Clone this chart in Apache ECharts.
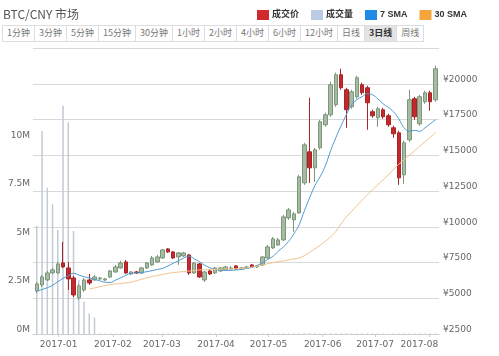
<!DOCTYPE html>
<html><head><meta charset="utf-8">
<script src="https://cdn.jsdelivr.net/npm/echarts@6/dist/echarts.min.js"></script>
<style>
html,body{margin:0;padding:0;background:#fff;}
#chart{position:absolute;left:0;top:0;width:499px;height:356px;}
#title{position:absolute;left:3px;top:5px;font:12px "Noto Sans CJK SC","Liberation Sans",sans-serif;color:#555;}
#bar{position:absolute;left:2px;top:25px;display:flex;}
#bar span{display:block;height:15px;line-height:15px;padding:0 4px;font:9px "Noto Sans CJK SC","Liberation Sans",sans-serif;color:#777;border:1px solid #ddd;border-left:none;background:#fff;}
#bar span:first-child{border-left:1px solid #ddd;}
#bar span.on{background:#e4e4e4;color:#333;font-weight:bold;}
</style></head>
<body>
<div id="chart"></div>
<div id="title"></div>
<div id="bar"></div>
<script>
const titleText = 'BTC/CNY 市场';
const periodLabels = ['1分钟','3分钟','5分钟','15分钟','30分钟','1小时','2小时','4小时','6小时','12小时','日线','3日线','周线'];
const activePeriod = '3日线';
const legendNames = ['成交价','成交量','7 SMA','30 SMA'];

const dates = [
'2016-12-19','2016-12-22','2016-12-25','2016-12-28','2016-12-31','2017-01-03','2017-01-06','2017-01-09','2017-01-12','2017-01-15',
'2017-01-18','2017-01-21','2017-01-24','2017-01-27','2017-01-30','2017-02-02','2017-02-05','2017-02-08','2017-02-11','2017-02-14',
'2017-02-17','2017-02-20','2017-02-23','2017-02-26','2017-03-01','2017-03-04','2017-03-07','2017-03-10','2017-03-13','2017-03-16',
'2017-03-19','2017-03-22','2017-03-25','2017-03-28','2017-03-31','2017-04-03','2017-04-06','2017-04-09','2017-04-12','2017-04-15',
'2017-04-18','2017-04-21','2017-04-24','2017-04-27','2017-04-30','2017-05-03','2017-05-06','2017-05-09','2017-05-12','2017-05-15',
'2017-05-18','2017-05-21','2017-05-24','2017-05-27','2017-05-30','2017-06-02','2017-06-05','2017-06-08','2017-06-11','2017-06-14',
'2017-06-17','2017-06-20','2017-06-23','2017-06-26','2017-06-29','2017-07-02','2017-07-05','2017-07-08','2017-07-11','2017-07-14',
'2017-07-17','2017-07-20','2017-07-23','2017-07-26','2017-07-29','2017-08-01','2017-08-04'];

const opens = [
5510,5930,6280,6770,6770,7470,7120,6420,5020,5580,
6280,6280,6350,6280,6490,6840,7120,7540,6700,6840,
6770,7120,7330,7540,7820,8450,8240,7890,7960,8030,
6770,7400,6280,6910,6770,6910,6980,7050,7260,7050,
7120,7330,7190,7330,7820,8520,8730,9080,10620,10480,
10970,13070,15240,14120,15520,17130,17830,18530,20630,19580,
18390,19090,19930,19720,18040,17620,18180,17760,16920,16570,
13630,16080,18950,17200,18740,19370,18880];
const closes = [
6000,6490,6770,6980,7400,7190,6350,5230,5860,6280,
6070,6490,6420,6350,6910,7190,7470,6770,6840,6770,
7120,7470,7820,7890,8380,8240,7820,8170,8170,6770,
7470,6490,6840,6700,7120,7120,7190,7120,7050,7120,
7190,7190,7260,7890,8590,9150,9080,10690,11180,10900,
13490,15730,14120,15380,17340,17830,19930,20630,19720,18180,
19440,20420,19370,18670,17760,18250,17690,17130,16500,13420,
15870,18880,17690,19090,19370,18740,21050];
const lows = [
5370,5790,6210,6700,6700,7120,5580,5090,4880,5440,
5930,6210,6280,6210,6420,6770,7050,6700,6630,6700,
6700,7050,7260,7470,7750,8170,7750,7330,7890,6630,
6700,6420,6140,6630,6700,6840,6910,6980,6980,6980,
7050,7120,7120,7260,7750,8450,8660,9010,10480,9640,
10900,12930,13070,13140,15380,16990,17690,18390,19580,16920,
18250,18950,19230,16780,17620,16990,17550,16990,16220,12930,
13000,15940,17480,17060,18600,18110,18740];
const highs = [
6140,6630,6910,7120,7540,8940,7540,6560,6000,6420,
6700,6630,6490,6420,6980,7330,7610,7680,6910,6910,
7190,7540,7960,8030,8450,8520,8310,8240,8240,8100,
7540,7470,6910,6980,7190,7190,7260,7260,7330,7190,
7260,7400,7330,7960,8730,9290,9220,10830,11320,11040,
13630,15870,19020,15520,17480,17970,20140,20770,21050,19720,
19580,20560,20070,19860,18180,18390,18320,17900,17060,16710,
16010,19580,19090,19230,19510,19510,21260];
const volumes = [
5570000,10460000,7540000,6690000,5360000,11770000,10910000,5310000,2780000,1660000,
1060000,850000,30000,25000,20000,20000,25000,30000,20000,20000,
20000,25000,20000,20000,25000,20000,20000,20000,25000,30000,
25000,20000,20000,20000,20000,20000,20000,20000,20000,20000,
20000,20000,20000,20000,25000,25000,25000,30000,30000,30000,
30000,40000,45000,35000,30000,30000,35000,40000,40000,35000,
30000,30000,25000,30000,25000,25000,20000,20000,20000,30000,
30000,30000,25000,25000,20000,20000,30000];
const sma7 = [
5489,5615,5734,5909,6154,6385,6574,6742,6630,6504,
6420,6322,6224,6119,6105,6266,6434,6609,6749,6770,
6798,6861,6931,7015,7092,7260,7442,7624,7806,7946,
7764,7554,7309,7134,7015,6966,6945,6945,6980,7015,
7085,7155,7295,7470,7715,7925,8275,8590,8975,9500,
10130,11110,12020,12860,13490,14260,15310,16220,17060,17830,
18530,18880,19090,19300,19230,18950,18600,18355,18040,17550,
16920,16675,16745,16675,16920,17200,17480];
const sma30 = [
null,null,null,null,null,null,null,null,null,null,
5650,5720,5804,5888,5965,6000,6035,6070,6126,6224,
6329,6434,6518,6595,6665,6742,6791,6833,6868,6903,
6938,6980,6994,7015,7022,7036,7043,7050,7064,7085,
7120,7176,7246,7330,7414,7484,7554,7610,7680,7750,
7820,7974,8205,8450,8695,8975,9290,9675,10200,10690,
11075,11460,11845,12230,12580,12930,13280,13630,14015,14365,
14680,14995,15310,15625,15940,16255,16605];
const priceTicks = {min: 2500, max: 22500, interval: 2500};
const volumeTicks = {min: 0, max: 14740000, interval: 2500000, lastLabel: 10000000};

document.getElementById('title').textContent = titleText;
const bar = document.getElementById('bar');
periodLabels.forEach(function (p) {
  const s = document.createElement('span');
  s.textContent = p;
  if (p === activePeriod) s.className = 'on';
  bar.appendChild(s);
});

const t = dates.map(d => d + ' 12:00');
const candleData = t.map((d, i) => [d, opens[i], closes[i], lows[i], highs[i]]);
const volData = t.map((d, i) => [d, volumes[i]]);
const sma7Data = t.map((d, i) => [d, sma7[i]]);
const sma30Data = t.map((d, i) => [d, sma30[i] == null ? '-' : sma30[i]]);

const axisFont = 'DejaVu Sans';
const chart = echarts.init(document.getElementById('chart'));
chart.setOption({
  animation: false,
  backgroundColor: '#fff',
  legend: {
    left: 257, top: 10, padding: 0, itemWidth: 12, itemHeight: 10, itemGap: 12, icon: 'rect',
    textStyle: {fontSize: 9, fontWeight: 'bold', color: '#333', fontFamily: '"Liberation Sans","Noto Sans CJK SC",sans-serif', padding: [0, 0, 0, -2]},
    data: [
      {name: legendNames[0], itemStyle: {color: '#cf2a2c', borderWidth: 0}},
      {name: legendNames[1], itemStyle: {color: '#b9cce4', borderWidth: 0}},
      {name: legendNames[2], itemStyle: {color: '#1f8ae8', borderWidth: 0}},
      {name: legendNames[3], itemStyle: {color: '#f6a53a', borderWidth: 0}}
    ]
  },
  grid: {left: 33, right: 60, top: 48, bottom: 22},
  xAxis: {
    type: 'time',
    min: '2016-12-17 18:00', max: '2017-08-06 02:00',
    minInterval: 28 * 86400000, maxInterval: 31 * 86400000, splitNumber: 8,
    axisLine: {lineStyle: {color: '#cfcfcf'}},
    axisTick: {show: true, length: 3, lineStyle: {color: '#cfcfcf'}},
    splitLine: {show: false},
    axisLabel: {
      fontSize: 9, color: '#666', fontFamily: axisFont, margin: 6, hideOverlap: false,
      formatter: function (v) {
        const d = new Date(v);
        const s = d.getFullYear() + '-' + String(d.getMonth() + 1).padStart(2, '0');
        return d.getMonth() === 7 ? '{shift|' + s + '}' : s;
      },
      rich: {shift: {fontSize: 9, color: '#666', fontFamily: axisFont, padding: [0, 20, 0, 0]}}
    }
  },
  yAxis: [
    {
      type: 'value', position: 'right', min: priceTicks.min, max: priceTicks.max, interval: priceTicks.interval,
      axisLine: {show: false}, axisTick: {show: false},
      splitLine: {lineStyle: {color: '#d9d9d9'}},
      axisLabel: {
        fontSize: 9, lineHeight: 9, color: '#666', fontFamily: axisFont, margin: 4, verticalAlign: 'bottom',
        formatter: v => v >= priceTicks.max ? '' : '¥' + v
      }
    },
    {
      type: 'value', position: 'left', min: volumeTicks.min, max: volumeTicks.max, interval: volumeTicks.interval,
      axisLine: {show: false}, axisTick: {show: false}, splitLine: {show: false},
      axisLabel: {
        fontSize: 9, lineHeight: 9, color: '#666', fontFamily: axisFont, margin: 3, verticalAlign: 'bottom',
        formatter: v => v > volumeTicks.lastLabel ? '' : (v / 1e6) + 'M'
      }
    }
  ],
  series: [
    {
      name: legendNames[1], type: 'bar', yAxisIndex: 1, data: volData, barWidth: 1.5, z: 1,
      itemStyle: {color: '#c2cad6'}
    },
    {
      name: legendNames[0], type: 'candlestick', yAxisIndex: 0, data: candleData, barWidth: 4, z: 3,
      encode: {x: 0, y: [1, 2, 3, 4]},
      itemStyle: {color: '#a6bba2', color0: '#c2282c', borderColor: '#7b967a', borderColor0: '#a92327', borderWidth: 1}
    },
    {
      name: legendNames[2], type: 'line', yAxisIndex: 0, data: sma7Data, showSymbol: false, smooth: 0.4, z: 4,
      itemStyle: {color: '#1f8ae8'}, lineStyle: {color: '#4e9bd3', width: 1}
    },
    {
      name: legendNames[3], type: 'line', yAxisIndex: 0, data: sma30Data, showSymbol: false, smooth: 0.4, z: 4,
      itemStyle: {color: '#f6a53a'}, lineStyle: {color: '#f2c28e', width: 1}
    }
  ]
});
</script>
</body></html>
